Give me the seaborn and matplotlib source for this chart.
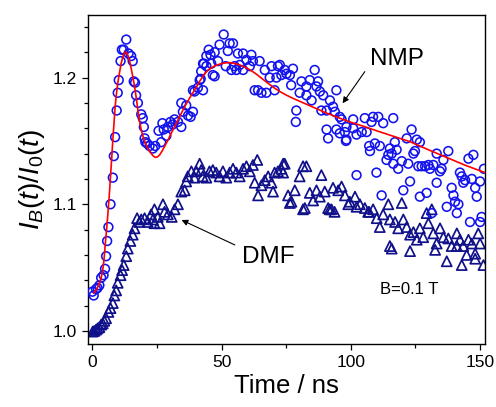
import matplotlib
matplotlib.use("Agg")
import matplotlib.pyplot as plt
import seaborn as sns
import pandas as pd
from matplotlib.ticker import MultipleLocator, FormatStrFormatter

# NMP data: (time / ns, I_B/I_0)
nmp_points = [
    (0.0, 1.031), (0.5, 1.028), (1.4, 1.033), (2.0, 1.034), (2.7, 1.036), (3.4, 1.042),
    (4.3, 1.044), (4.9, 1.049), (5.3, 1.059), (5.7, 1.071), (6.2, 1.082), (7.0, 1.100),
    (7.9, 1.121), (8.3, 1.138), (8.8, 1.153), (9.4, 1.174), (9.8, 1.188), (10.2, 1.198),
    (10.9, 1.213), (11.4, 1.222), (12.1, 1.222), (13.1, 1.230), (14.0, 1.219), (15.0, 1.217),
    (15.6, 1.213), (16.0, 1.197), (16.5, 1.196), (16.9, 1.186), (17.6, 1.180), (18.9, 1.171),
    (19.5, 1.168), (19.9, 1.161), (20.2, 1.152), (20.5, 1.149), (21.2, 1.148), (22.1, 1.146),
    (23.4, 1.144), (24.3, 1.146), (25.6, 1.158), (26.6, 1.149), (27.1, 1.164), (27.6, 1.159),
    (28.6, 1.154), (29.2, 1.161), (30.2, 1.165), (31.1, 1.163), (31.8, 1.167), (33.1, 1.165),
    (34.4, 1.161), (34.4, 1.180), (35.0, 1.173), (36.3, 1.178), (37.0, 1.170), (38.0, 1.169),
    (38.9, 1.173), (38.9, 1.190), (39.5, 1.189), (40.8, 1.192), (41.5, 1.198), (41.9, 1.199),
    (42.1, 1.205), (42.8, 1.190), (42.8, 1.211), (43.1, 1.211), (44.1, 1.217), (44.1, 1.209),
    (45.0, 1.222), (45.7, 1.218), (46.0, 1.211), (46.6, 1.202), (47.3, 1.220), (47.3, 1.201),
    (48.6, 1.213), (49.2, 1.226), (50.8, 1.234), (51.6, 1.209), (52.4, 1.221), (53.1, 1.227),
    (53.8, 1.206), (54.4, 1.227), (55.0, 1.209), (55.7, 1.206), (56.3, 1.219), (57.0, 1.210),
    (58.3, 1.219), (58.3, 1.206), (59.6, 1.214), (60.9, 1.209), (61.5, 1.218), (62.1, 1.213),
    (62.8, 1.190), (64.1, 1.190), (64.7, 1.213), (65.4, 1.188), (66.7, 1.206), (67.3, 1.188),
    (68.6, 1.200), (69.3, 1.209), (70.5, 1.190), (71.2, 1.200), (71.8, 1.209), (72.5, 1.210),
    (73.1, 1.202), (74.4, 1.206), (75.1, 1.203), (76.4, 1.202), (76.9, 1.194), (77.6, 1.207),
    (78.7, 1.165), (78.9, 1.174), (80.2, 1.188), (80.9, 1.197), (82.8, 1.193), (82.8, 1.186),
    (84.1, 1.198), (84.8, 1.182), (86.0, 1.206), (86.7, 1.193), (87.3, 1.197), (88.0, 1.189),
    (88.6, 1.174), (89.3, 1.186), (90.6, 1.174), (90.6, 1.159), (91.2, 1.152), (91.9, 1.182),
    (93.1, 1.177), (93.8, 1.173), (94.4, 1.190), (94.4, 1.159), (95.7, 1.156), (95.7, 1.169),
    (96.4, 1.167), (97.7, 1.157), (98.1, 1.150), (98.3, 1.161), (98.3, 1.151), (100.9, 1.167),
    (100.9, 1.160), (102.2, 1.155), (102.2, 1.123), (104.2, 1.157), (105.4, 1.168), (106.1, 1.157),
    (107.1, 1.146), (107.4, 1.142), (108.0, 1.165), (108.6, 1.169), (109.3, 1.148), (109.9, 1.125),
    (110.6, 1.169), (111.2, 1.146), (111.9, 1.107), (112.5, 1.164), (113.8, 1.135), (114.5, 1.139),
    (115.1, 1.144), (115.8, 1.140), (116.4, 1.132), (116.4, 1.168), (117.0, 1.149), (117.7, 1.143),
    (118.3, 1.128), (119.7, 1.134), (120.3, 1.111), (121.6, 1.152), (122.2, 1.132), (122.9, 1.118),
    (123.5, 1.159), (124.2, 1.140), (124.8, 1.142), (125.5, 1.151), (126.1, 1.130), (126.7, 1.149),
    (126.7, 1.106), (127.4, 1.130), (128.7, 1.130), (129.3, 1.109), (130.0, 1.131), (130.6, 1.128),
    (131.3, 1.093), (131.9, 1.131), (133.2, 1.140), (133.2, 1.117), (134.5, 1.126), (135.1, 1.128),
    (135.8, 1.135), (137.1, 1.098), (137.7, 1.142), (139.0, 1.113), (139.7, 1.107), (140.3, 1.102),
    (141.0, 1.093), (141.6, 1.100), (142.2, 1.125), (142.9, 1.122), (143.5, 1.117), (144.2, 1.119),
    (145.5, 1.136), (146.1, 1.086), (146.8, 1.120), (147.4, 1.139), (148.1, 1.113), (148.7, 1.106),
    (150.0, 1.118), (150.0, 1.086), (150.6, 1.090), (151.5, 1.128),
]

# DMF data: (time / ns, I_B/I_0)
dmf_points = [
    (0.1, 0.9995), (0.7, 1.000), (1.4, 1.001), (2.0, 1.002), (2.7, 1.003), (3.4, 1.005),
    (4.0, 1.006), (4.6, 1.008), (5.3, 1.010), (6.2, 1.015), (7.0, 1.018), (7.9, 1.022),
    (8.5, 1.028), (9.2, 1.032), (9.8, 1.038), (10.9, 1.044), (11.5, 1.048), (12.1, 1.052),
    (13.1, 1.059), (13.7, 1.065), (14.7, 1.071), (15.6, 1.076), (16.3, 1.081), (17.3, 1.089),
    (18.2, 1.086), (18.9, 1.088), (20.2, 1.089), (21.4, 1.086), (22.7, 1.092), (23.4, 1.088),
    (24.0, 1.096), (24.0, 1.085), (25.3, 1.090), (26.0, 1.085), (27.3, 1.100), (27.9, 1.094),
    (29.2, 1.092), (30.7, 1.090), (31.8, 1.096), (33.1, 1.100), (34.4, 1.110), (35.7, 1.111),
    (36.3, 1.118), (36.9, 1.122), (38.3, 1.126), (39.5, 1.121), (40.2, 1.126), (41.5, 1.132),
    (42.1, 1.127), (42.7, 1.122), (44.1, 1.121), (45.3, 1.126), (46.6, 1.127), (47.9, 1.125),
    (49.2, 1.122), (50.5, 1.126), (51.8, 1.121), (53.1, 1.125), (54.4, 1.128), (55.7, 1.125),
    (57.0, 1.122), (58.3, 1.128), (59.6, 1.130), (60.9, 1.126), (62.1, 1.131), (62.8, 1.117),
    (63.8, 1.135), (64.1, 1.107), (65.4, 1.115), (66.7, 1.119), (68.0, 1.122), (69.3, 1.117),
    (69.9, 1.110), (70.5, 1.125), (71.8, 1.126), (73.1, 1.128), (73.8, 1.132), (73.8, 1.125),
    (74.4, 1.132), (75.7, 1.107), (76.4, 1.101), (77.0, 1.102), (78.3, 1.111), (80.2, 1.122),
    (81.5, 1.130), (81.5, 1.096), (82.2, 1.097), (82.8, 1.130), (84.1, 1.109), (85.4, 1.103),
    (86.7, 1.111), (88.0, 1.106), (88.6, 1.123), (89.9, 1.110), (91.2, 1.097), (91.8, 1.096),
    (92.5, 1.096), (93.1, 1.113), (93.7, 1.094), (95.1, 1.111), (96.4, 1.114), (97.7, 1.107),
    (99.0, 1.100), (99.6, 1.102), (101.6, 1.106), (102.2, 1.098), (103.5, 1.100), (105.4, 1.097),
    (106.7, 1.094), (107.1, 1.094), (108.6, 1.096), (110.0, 1.089), (111.2, 1.082), (112.5, 1.092),
    (114.5, 1.100), (115.1, 1.088), (115.1, 1.067), (115.8, 1.065), (117.1, 1.086), (118.3, 1.081),
    (119.7, 1.101), (120.3, 1.088), (121.6, 1.082), (122.9, 1.076), (122.9, 1.063), (124.2, 1.078),
    (125.5, 1.072), (126.7, 1.081), (128.0, 1.074), (129.3, 1.093), (130.0, 1.085), (131.3, 1.096),
    (131.9, 1.077), (132.6, 1.064), (133.2, 1.069), (134.5, 1.081), (135.8, 1.074), (137.1, 1.055),
    (137.7, 1.073), (139.0, 1.067), (141.0, 1.077), (141.0, 1.067), (142.2, 1.072), (142.9, 1.052),
    (143.5, 1.067), (144.8, 1.060), (145.5, 1.072), (146.8, 1.069), (148.1, 1.061), (148.1, 1.057),
    (149.3, 1.077), (150.0, 1.069), (151.3, 1.052),
]

# NMP fit curve
fit_t = [0.5, 1.8, 2.7, 3.4, 4.0, 4.5, 4.9, 5.4, 5.9, 6.5, 7.0, 7.5, 7.9, 8.4, 8.8, 9.3,
         9.8, 10.5, 11.1, 11.8, 12.4, 13.0, 13.7, 14.4, 15.0, 15.7, 16.3, 17.0, 17.6,
         18.2, 18.9, 19.8, 20.8, 21.7, 22.7, 23.5, 24.3, 25.1, 26.0, 26.9, 27.9, 29.2,
         30.5, 31.8, 33.1, 34.4, 35.7, 37.6, 39.5, 41.5, 43.4, 45.3, 47.3, 49.5, 51.5,
         53.1, 55.0, 57.0, 59.0, 60.9, 63.0, 65.0, 67.5, 69.9, 72.5, 75.0, 77.5, 80.2,
         85.0, 90.6, 95.0, 99.6, 105.0, 110.0, 116.0, 122.9, 130.0, 137.0, 144.0, 151.9]
fit_r = [1.0297, 1.0335, 1.0376, 1.0420, 1.0480, 1.0565, 1.0665, 1.0780, 1.0900, 1.1060,
         1.1218, 1.1370, 1.1507, 1.1650, 1.1770, 1.1870, 1.1955, 1.2040, 1.2110, 1.2165,
         1.2197, 1.2202, 1.2178, 1.2130, 1.2073, 1.2000, 1.1930, 1.1835, 1.1744, 1.1660,
         1.1586, 1.1520, 1.1468, 1.1430, 1.1402, 1.1382, 1.1370, 1.1373, 1.1389, 1.1418,
         1.1455, 1.1505, 1.1560, 1.1613, 1.1665, 1.1718, 1.1770, 1.1838, 1.1900, 1.1970,
         1.2030, 1.2068, 1.2092, 1.2108, 1.2116, 1.2118, 1.2112, 1.2100, 1.2082, 1.2062,
         1.2034, 1.2002, 1.1962, 1.1925, 1.1890, 1.1862, 1.1837, 1.1813, 1.1770, 1.1720,
         1.1685, 1.1650, 1.1615, 1.1580, 1.1540, 1.1494, 1.1430, 1.1370, 1.1310, 1.1250]

nmp_df = pd.DataFrame(nmp_points, columns=["t", "r"])
dmf_df = pd.DataFrame(dmf_points, columns=["t", "r"])
fit_df = pd.DataFrame({"t": fit_t, "r": fit_r})

sns.set_style("ticks")
plt.rcParams['font.family'] = ['Liberation Sans', 'DejaVu Sans']
plt.rcParams['mathtext.fontset'] = 'custom'
plt.rcParams['mathtext.it'] = 'Liberation Sans:italic'
plt.rcParams['mathtext.rm'] = 'Liberation Sans'
plt.rcParams['text.color'] = 'black'
plt.rcParams['axes.labelcolor'] = 'black'
plt.rcParams['xtick.color'] = 'black'
plt.rcParams['ytick.color'] = 'black'

fig = plt.figure(figsize=(4.96, 4.07), dpi=100)
ax = fig.add_axes([88 / 496, 1 - 344 / 407, (485 - 88) / 496, (344 - 15) / 407])

sns.scatterplot(data=dmf_df, x="t", y="r", ax=ax, marker="^", s=52,
                facecolor="none", edgecolor="#10108a", linewidth=1.25, zorder=2)
sns.scatterplot(data=nmp_df, x="t", y="r", ax=ax, marker="o", s=40,
                facecolor="none", edgecolor="#1212ee", linewidth=1.15, zorder=3)
sns.lineplot(data=fit_df, x="t", y="r", ax=ax, color="#ff0000", linewidth=1.2,
             zorder=4, sort=False)

ax.set_xlim(-1.7, 151.9)
ax.set_ylim(0.9897, 1.2494)
ax.xaxis.set_major_locator(MultipleLocator(50))
ax.xaxis.set_minor_locator(MultipleLocator(25))
ax.yaxis.set_major_locator(MultipleLocator(0.1))
ax.yaxis.set_minor_locator(MultipleLocator(0.02))
ax.yaxis.set_major_formatter(FormatStrFormatter('%.1f'))
ax.tick_params(which="both", direction="out", top=False, right=False, colors="black",
               labelsize=12.5, width=0.9)
ax.tick_params(which="major", length=4.5)
ax.tick_params(which="minor", length=3)
for sp in ax.spines.values():
    sp.set_visible(True)
    sp.set_linewidth(1.0)
    sp.set_color("black")

ax.set_xlabel("Time / ns", fontsize=18.5, labelpad=3, color="black")
ax.set_ylabel("$I_B(t)/I_0(t)$", fontsize=20, labelpad=4, color="black")

ax.text(107.3, 1.2147, "NMP", fontsize=17.5, va="center", ha="left", color="black")
ax.annotate("", xy=(96.8, 1.1797), xytext=(105.4, 1.2047),
            arrowprops=dict(arrowstyle="-|>", color="black", lw=0.8,
                            mutation_scale=9, shrinkA=0, shrinkB=0))
ax.text(57.7, 1.058, "DMF", fontsize=17.5, va="center", ha="left", color="black")
ax.annotate("", xy=(34.5, 1.0876), xytext=(55.1, 1.0679),
            arrowprops=dict(arrowstyle="-|>", color="black", lw=0.8,
                            mutation_scale=9, shrinkA=0, shrinkB=0))
ax.text(111.2, 1.0329, "B=0.1 T", fontsize=12, va="center", ha="left", color="black")

fig.savefig("out.png", dpi=100)
